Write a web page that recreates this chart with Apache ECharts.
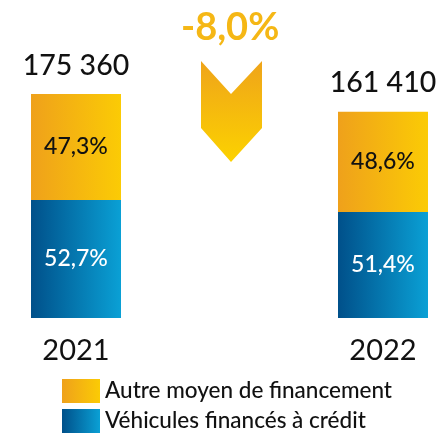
<!DOCTYPE html>
<html>
<head>
<meta charset="utf-8">
<script src="https://cdn.jsdelivr.net/npm/echarts@6/dist/echarts.min.js"></script>
<style>
  html, body { margin: 0; padding: 0; background: #fff; }
  #chart { width: 436px; height: 435px; }
</style>
</head>
<body>
<div id="chart"></div>
<script>
// data
const years = ['2021', '2022'];
const totals = [175360, 161410];
const shareCredit = [52.7, 51.4];   // Véhicules financés à crédit
const shareOther = [47.3, 48.6];    // Autre moyen de financement
const change = '-8,0%';

const FONT = 'Lato, "Noto Sans", sans-serif';

// segment sizes in absolute units, so bar heights follow the totals
const creditVals = totals.map((t, i) => t * shareCredit[i] / 100);
const otherVals = totals.map((t, i) => t * shareOther[i] / 100);

const fmtPct = v => v.toFixed(1).replace('.', ',') + '%';
const fmtTotal = v => String(v).replace(/\B(?=(\d{3})+(?!\d))/g, ' ');

const orangeGrad = new echarts.graphic.LinearGradient(0, 0, 1, 0, [
    { offset: 0, color: '#EFA11B' },
    { offset: 1, color: '#FBCB05' }
]);
const blueGrad = new echarts.graphic.LinearGradient(0, 0, 1, 0, [
    { offset: 0, color: '#00508A' },
    { offset: 1, color: '#0AA0D5' }
]);
const arrowGrad = new echarts.graphic.LinearGradient(0, 0, 0, 1, [
    { offset: 0, color: '#EFA41A' },
    { offset: 1, color: '#FCD200' }
]);

const chart = echarts.init(document.getElementById('chart'), null, { renderer: 'canvas' });

const option = {
    animation: false,
    // categories sit on the grid edges (boundaryGap false)
    grid: { left: 76, right: 53, top: 62.5, bottom: 117 },
    legend: {
        orient: 'vertical',
        left: 62,
        top: 379,
        icon: 'rect',
        itemWidth: 38,
        itemHeight: 24,
        itemGap: 6,
        padding: 0,
        selectedMode: false,
        data: ['Autre moyen de financement', 'Véhicules financés à crédit'],
        textStyle: { fontFamily: FONT, fontSize: 22.5, fontWeight: 500, color: '#111' }
    },
    xAxis: {
        type: 'category',
        data: years,
        boundaryGap: false,
        axisLine: { show: false },
        axisTick: { show: false },
        axisLabel: { margin: 18, fontFamily: FONT, fontSize: 29, color: '#111' }
    },
    yAxis: {
        type: 'value',
        min: 0,
        max: 200000,
        show: false,
        splitLine: { show: false }
    },
    series: [
        {
            name: 'Véhicules financés à crédit',
            type: 'bar',
            stack: 'tot',
            barWidth: 90,
            clip: false,
            itemStyle: { color: blueGrad },
            label: {
                show: true,
                position: 'inside',
                formatter: p => fmtPct(shareCredit[p.dataIndex]),
                fontFamily: FONT, fontSize: 23, fontWeight: 500, color: '#fff'
            },
            data: creditVals
        },
        {
            name: 'Autre moyen de financement',
            type: 'bar',
            stack: 'tot',
            barWidth: 90,
            clip: false,
            itemStyle: { color: orangeGrad },
            label: {
                show: true,
                position: 'inside',
                formatter: p => fmtPct(shareOther[p.dataIndex]),
                fontFamily: FONT, fontSize: 23, fontWeight: 500, color: '#111'
            },
            data: otherVals
        },
        {
            name: 'total',
            type: 'bar',
            stack: 'tot',
            barWidth: 90,
            clip: false,
            itemStyle: { color: 'transparent' },
            label: {
                show: true,
                position: 'top',
                distance: 14,
                formatter: p => fmtTotal(totals[p.dataIndex]),
                fontFamily: FONT, fontSize: 28.5, fontWeight: 500, color: '#111'
            },
            data: totals.map(() => 0)
        }
    ],
    graphic: [
        {
            type: 'text',
            left: 181,
            top: 9,
            style: {
                text: change,
                font: 'bold 38px ' + FONT,
                fill: '#F5B715'
            }
        },
        {
            type: 'polygon',
            shape: {
                points: [[201, 61], [231, 94], [262, 61], [262, 128], [231, 162], [201, 128]]
            },
            style: { fill: arrowGrad }
        }
    ]
};

chart.setOption(option);
</script>
</body>
</html>
